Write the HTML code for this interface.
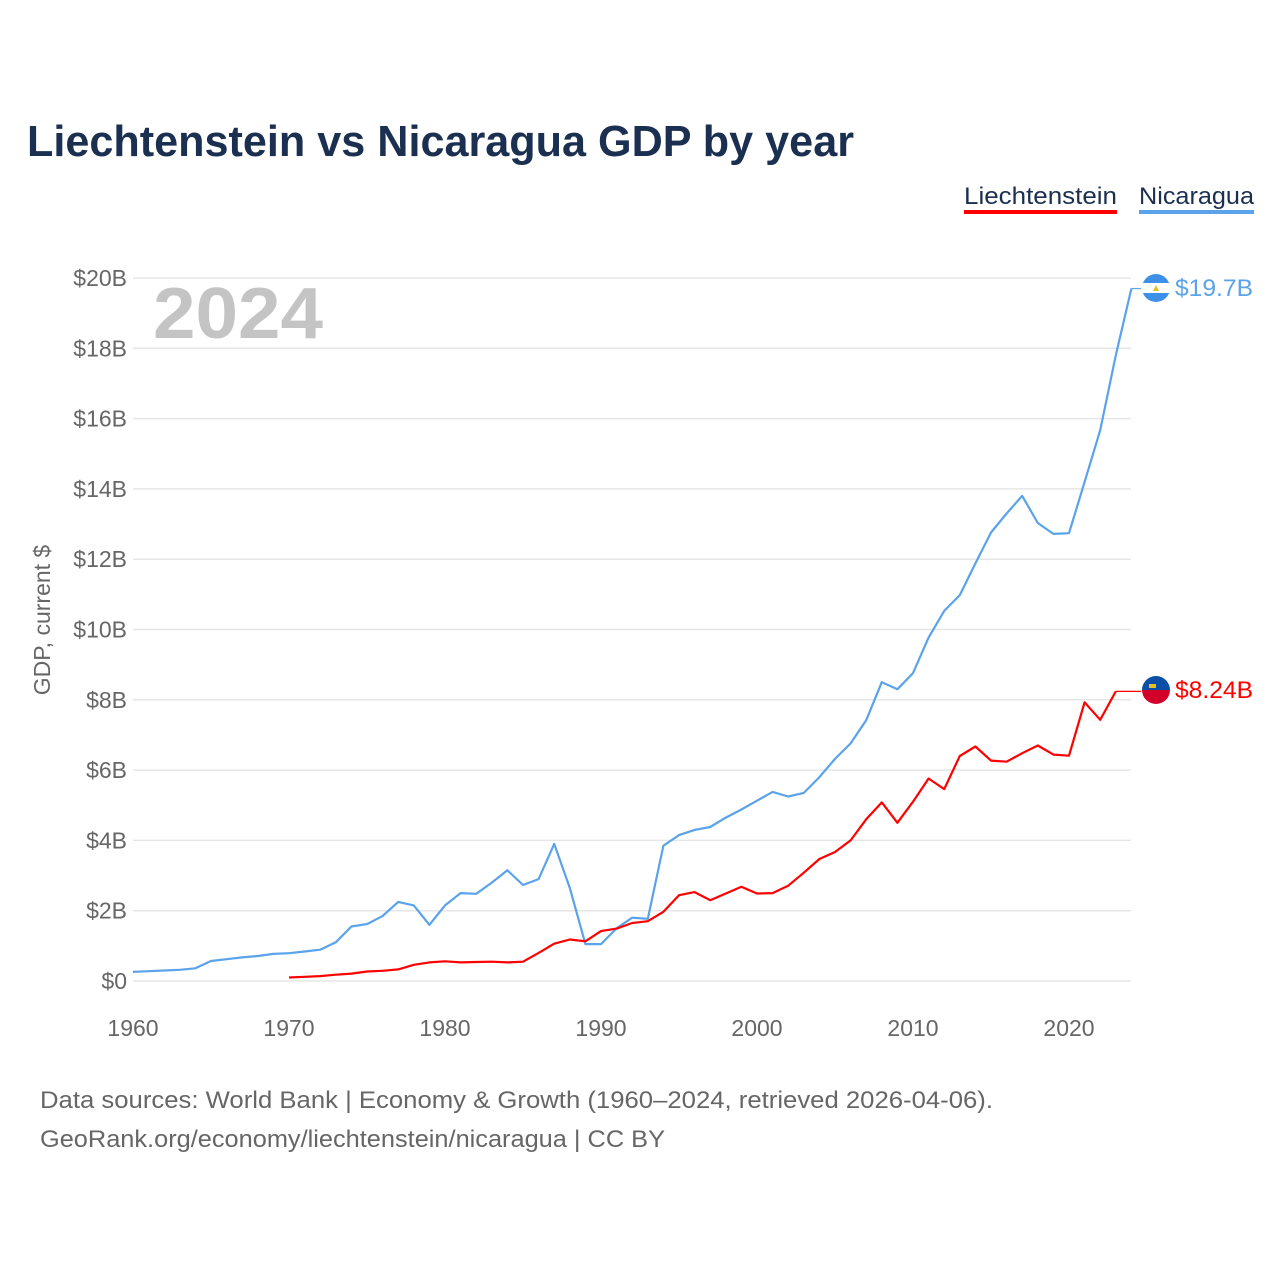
<!DOCTYPE html>
<html><head><meta charset="utf-8"><style>
body{margin:0;background:#fff;font-family:"Liberation Sans",sans-serif;}
svg text{font-family:"Liberation Sans",sans-serif;}
</style></head><body>
<svg width="1280" height="1280" xmlns="http://www.w3.org/2000/svg">
<text x="27" y="156" font-size="44" font-weight="bold" fill="#1b2f50" textLength="827" lengthAdjust="spacingAndGlyphs">Liechtenstein vs Nicaragua GDP by year</text>
<g>
<text x="964" y="204" font-size="24" fill="#1b2f50" textLength="153" lengthAdjust="spacingAndGlyphs">Liechtenstein</text>
<rect x="964" y="210" width="153" height="4" fill="#ff0000"/>
<text x="1139" y="204" font-size="24" fill="#1b2f50" textLength="115" lengthAdjust="spacingAndGlyphs">Nicaragua</text>
<rect x="1139" y="210" width="115" height="4" fill="#5aa3ea"/>
</g>
<g id="grid"></g><g id="yt"></g><g id="xt"></g>
<text x="153" y="338" font-size="72" font-weight="bold" fill="#c4c4c4" textLength="170" lengthAdjust="spacingAndGlyphs">2024</text>
<text transform="translate(50,620) rotate(-90)" text-anchor="middle" font-size="23" fill="#666">GDP, current $</text>
<g id="lines"></g>
<g>
<clipPath id="c1"><circle cx="1156" cy="288" r="14"/></clipPath>
<g clip-path="url(#c1)"><rect x="1142" y="274" width="28" height="28" fill="#fff"/><rect x="1142" y="274" width="28" height="9" fill="#3d8fe8"/><rect x="1142" y="293" width="28" height="9" fill="#3d8fe8"/><polygon points="1153,291 1159,291 1156,285" fill="#e8c020"/></g>
</g>
<g>
<clipPath id="c2"><circle cx="1156" cy="690" r="14"/></clipPath>
<g clip-path="url(#c2)"><rect x="1142" y="676" width="28" height="14" fill="#0b4ea8"/><rect x="1142" y="690" width="28" height="14" fill="#d3002a"/><rect x="1149" y="684" width="7" height="4" fill="#e8c020"/></g>
</g>
<text x="1175" y="296" font-size="24" fill="#5aa3ea" textLength="78" lengthAdjust="spacingAndGlyphs">$19.7B</text>
<text x="1175" y="698" font-size="24" fill="#ff0000" textLength="78" lengthAdjust="spacingAndGlyphs">$8.24B</text>
<text x="40" y="1108" font-size="24" fill="#666" textLength="953" lengthAdjust="spacingAndGlyphs">Data sources: World Bank | Economy &amp; Growth (1960–2024, retrieved 2026-04-06).</text>
<text x="40" y="1147" font-size="24" fill="#666" textLength="625" lengthAdjust="spacingAndGlyphs">GeoRank.org/economy/liechtenstein/nicaragua | CC BY</text>
</svg>
<script>
const yTicks=[0,2,4,6,8,10,12,14,16,18,20];
const yTickLabels=["$0","$2B","$4B","$6B","$8B","$10B","$12B","$14B","$16B","$18B","$20B"];
const xTicks=[1960,1970,1980,1990,2000,2010,2020];
const nicStart=1960;
const nicaragua=[0.26,0.28,0.30,0.32,0.36,0.57,0.62,0.67,0.71,0.77,0.79,0.84,0.89,1.1,1.55,1.62,1.85,2.25,2.15,1.6,2.15,2.5,2.48,2.8,3.15,2.73,2.9,3.9,2.65,1.05,1.05,1.5,1.8,1.77,3.85,4.15,4.3,4.38,4.65,4.88,5.13,5.38,5.25,5.35,5.8,6.32,6.76,7.42,8.5,8.3,8.76,9.77,10.53,10.98,11.88,12.76,13.3,13.8,13.03,12.72,12.74,14.2,15.67,17.8,19.7];
const liechStart=1970;
const liechtenstein=[0.1,0.12,0.14,0.18,0.21,0.27,0.29,0.33,0.46,0.53,0.56,0.53,0.54,0.55,0.53,0.55,0.8,1.06,1.18,1.13,1.42,1.49,1.65,1.7,1.97,2.44,2.53,2.3,2.49,2.68,2.49,2.5,2.71,3.08,3.47,3.67,4.0,4.6,5.08,4.5,5.1,5.76,5.46,6.4,6.67,6.27,6.24,6.48,6.7,6.44,6.41,7.93,7.43,8.24];
const NS="http://www.w3.org/2000/svg";
const X=yr=>133+(yr-1960)*15.6;
const Y=v=>981-v*35.15;
function mk(tag,attrs,parent){const e=document.createElementNS(NS,tag);for(const k in attrs)e.setAttribute(k,attrs[k]);document.getElementById(parent).appendChild(e);return e;}
yTicks.forEach((t,i)=>{
 const l=mk('line',{x1:133,x2:1131,y1:Y(t),y2:Y(t),stroke:'#e6e6e6','stroke-width':1.5},'grid');
 
 
 const tx=mk('text',{x:127,y:Y(t)+8,'text-anchor':'end','font-size':23,fill:'#666'},'yt');
 tx.textContent=yTickLabels[i];
 
 
});
xTicks.forEach(t=>{
 const tx=mk('text',{x:X(t),y:1036,'text-anchor':'middle','font-size':23,fill:'#666'},'xt');
 tx.textContent=t;
 
 
});
function line(arr,start,color,name){
 const pts=arr.map((v,i)=>X(start+i).toFixed(1)+','+Y(v).toFixed(1)).join(' ');
 const p=mk('polyline',{points:pts,fill:'none',stroke:color,'stroke-width':2.2,'stroke-linejoin':'round'},'lines');
 
 
 const last=arr.length-1,lx=X(start+last),ly=Y(arr[last]);
 const c=mk('polyline',{points:lx+','+ly+' 1141,'+ly,fill:'none',stroke:color,'stroke-width':1.2},'lines');
 
 
}
line(nicaragua,nicStart,'#5aa3ea','line-nicaragua');
line(liechtenstein,liechStart,'#ff0000','line-liechtenstein');
</script>
</body></html>
